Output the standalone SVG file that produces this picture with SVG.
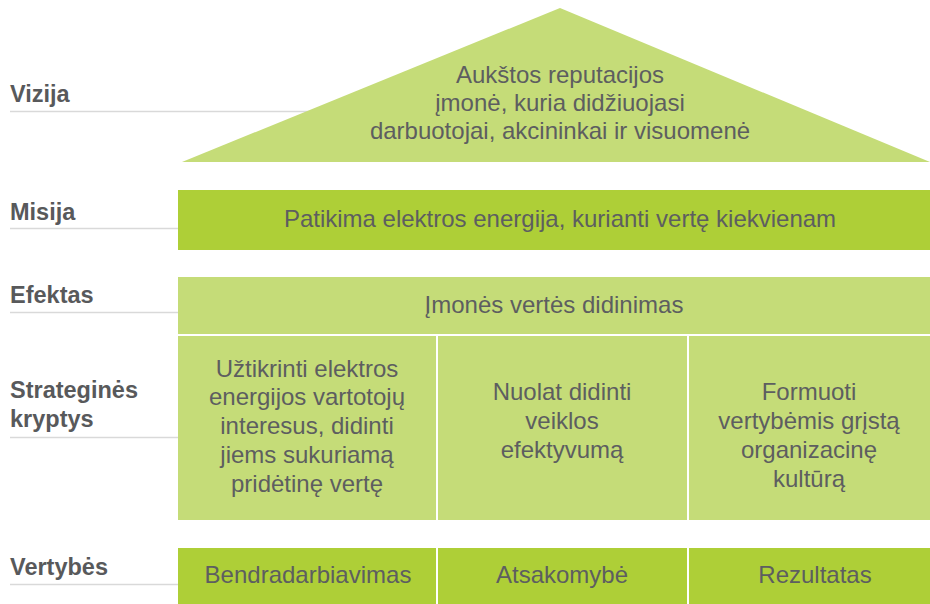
<svg xmlns="http://www.w3.org/2000/svg" width="930" height="604" viewBox="0 0 930 604">
<style>
.lbl{font-family:"Liberation Sans",Arial,sans-serif;font-weight:bold;font-size:23.5px;fill:#58595b}
.txt{font-family:"Liberation Sans",Arial,sans-serif;font-size:24px;fill:#5d5e60;text-anchor:middle}
.light{fill:#c5dc78}
.bright{fill:#aecf37}
.guide{stroke:#d9d9d9;stroke-width:1.5;fill:none}
</style>
<rect width="930" height="604" fill="#ffffff"/>
<g id="connectors">
<line class="guide" x1="10" y1="111.5" x2="320" y2="111.5"/>
<line class="guide" x1="10" y1="228.5" x2="178" y2="228.5"/>
<line class="guide" x1="10" y1="312.5" x2="178" y2="312.5"/>
<line class="guide" x1="10" y1="437.5" x2="178" y2="437.5"/>
<line class="guide" x1="10" y1="584.5" x2="178" y2="584.5"/>
</g>
<g id="labels">
<text class="lbl" x="10" y="102">Vizija</text>
<text class="lbl" x="10" y="220">Misija</text>
<text class="lbl" x="10" y="303">Efektas</text>
<text class="lbl" x="10" y="398">Strateginės</text>
<text class="lbl" x="10" y="427">kryptys</text>
<text class="lbl" x="10" y="575">Vertybės</text>
</g>
<g id="vizija">
<polygon class="light" points="182,162 560,8 930,162"/>
<text class="txt" x="560" y="83">Aukštos reputacijos</text>
<text class="txt" x="560" y="111">įmonė, kuria didžiuojasi</text>
<text class="txt" x="560" y="139">darbuotojai, akcininkai ir visuomenė</text>
</g>
<g id="misija">
<rect class="bright" x="178" y="190" width="752" height="60"/>
<text class="txt" x="560" y="227">Patikima elektros energija, kurianti vertę kiekvienam</text>
</g>
<g id="efektas">
<rect class="light" x="178" y="277" width="752" height="57"/>
<text class="txt" x="554" y="313">Įmonės vertės didinimas</text>
</g>
<g id="kryptis1">
<rect class="light" x="178" y="336" width="258" height="184"/>
<text class="txt" x="307" y="377">Užtikrinti elektros</text>
<text class="txt" x="307" y="405">energijos vartotojų</text>
<text class="txt" x="307" y="434">interesus, didinti</text>
<text class="txt" x="307" y="463">jiems sukuriamą</text>
<text class="txt" x="307" y="492">pridėtinę vertę</text>
</g>
<g id="kryptis2">
<rect class="light" x="438" y="336" width="249" height="184"/>
<text class="txt" x="562" y="400">Nuolat didinti</text>
<text class="txt" x="562" y="429">veiklos</text>
<text class="txt" x="562" y="458">efektyvumą</text>
</g>
<g id="kryptis3">
<rect class="light" x="689" y="336" width="241" height="184"/>
<text class="txt" x="809" y="400">Formuoti</text>
<text class="txt" x="809" y="429">vertybėmis grįstą</text>
<text class="txt" x="809" y="458">organizacinę</text>
<text class="txt" x="809" y="487">kultūrą</text>
</g>
<g id="vertybe1">
<rect class="bright" x="178" y="548" width="258" height="56"/>
<text class="txt" x="308" y="583">Bendradarbiavimas</text>
</g>
<g id="vertybe2">
<rect class="bright" x="438" y="548" width="249" height="56"/>
<text class="txt" x="562" y="583">Atsakomybė</text>
</g>
<g id="vertybe3">
<rect class="bright" x="689" y="548" width="241" height="56"/>
<text class="txt" x="815" y="583">Rezultatas</text>
</g>
</svg>
